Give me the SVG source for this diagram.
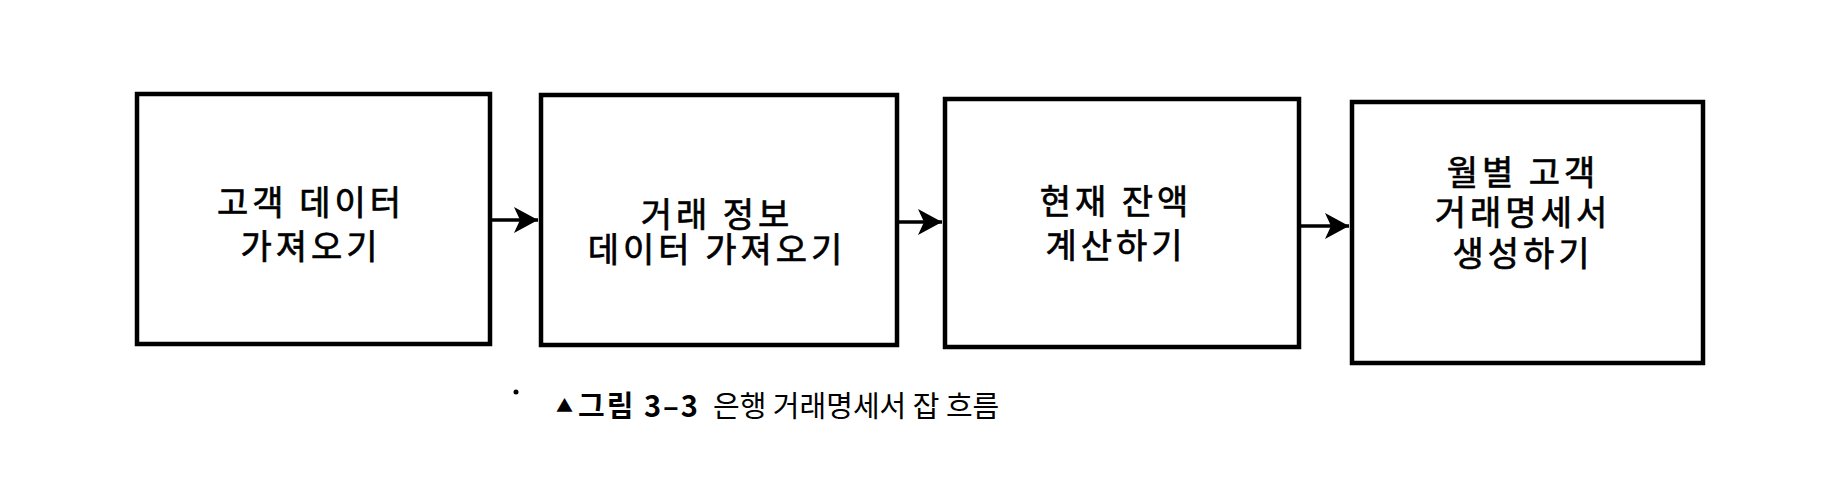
<svg xmlns="http://www.w3.org/2000/svg" width="1840" height="484" viewBox="0 0 1840 484">
<style>
.box{fill:#fff;stroke:#000;stroke-width:4.5}
.lbl{font-family:"Noto Sans CJK KR","Noto Sans",sans-serif;font-size:34px;letter-spacing:4px;fill:#000;stroke:#000;stroke-width:0.7;text-anchor:middle;dominant-baseline:central}
.conn{stroke:#000;stroke-width:3.5;fill:none}
.cap{font-family:"Noto Sans CJK KR","Noto Sans",sans-serif;font-size:29px;fill:#000;dominant-baseline:central}
</style>
<defs>
<marker id="ah" markerWidth="26" markerHeight="28" refX="24" refY="13" orient="auto" markerUnits="userSpaceOnUse">
<path d="M0,0 L24,13 L0,26 L6,13 Z" fill="#000"/>
</marker>
</defs>
<rect width="1840" height="484" fill="#fff"/>
<g id="node1">
<rect class="box" x="137" y="94" width="353" height="250"/>
<text class="lbl" x="311" y="200">고객 데이터</text>
<text class="lbl" x="311" y="244">가져오기</text>
</g>
<g id="node2">
<rect class="box" x="541" y="95" width="356" height="250"/>
<text class="lbl" x="717" y="212">거래 정보</text>
<text class="lbl" x="717" y="247">데이터 가져오기</text>
</g>
<g id="node3">
<rect class="box" x="945" y="99" width="354" height="248"/>
<text class="lbl" x="1116" y="199">현재 잔액</text>
<text class="lbl" x="1116" y="243">계산하기</text>
</g>
<g id="node4">
<rect class="box" x="1352" y="102" width="351" height="261"/>
<text class="lbl" x="1523" y="170">월별 고객</text>
<text class="lbl" x="1523" y="210">거래명세서</text>
<text class="lbl" x="1523" y="251">생성하기</text>
</g>
<g id="connectors">
<line class="conn" x1="492" y1="220" x2="538" y2="220" marker-end="url(#ah)"/>
<line class="conn" x1="899" y1="222" x2="942" y2="222" marker-end="url(#ah)"/>
<line class="conn" x1="1301" y1="226" x2="1349" y2="226" marker-end="url(#ah)"/>
</g>
<g id="caption">
<circle cx="516" cy="392" r="2.5" fill="#000"/>
<text class="cap" x="556" y="404" style="font-size:17px">▲</text>
<text class="cap" x="578" y="404" font-weight="bold" letter-spacing="2">그림 3–3</text>
<text class="cap" x="713" y="404">은행 거래명세서 잡 흐름</text>
</g>
</svg>
